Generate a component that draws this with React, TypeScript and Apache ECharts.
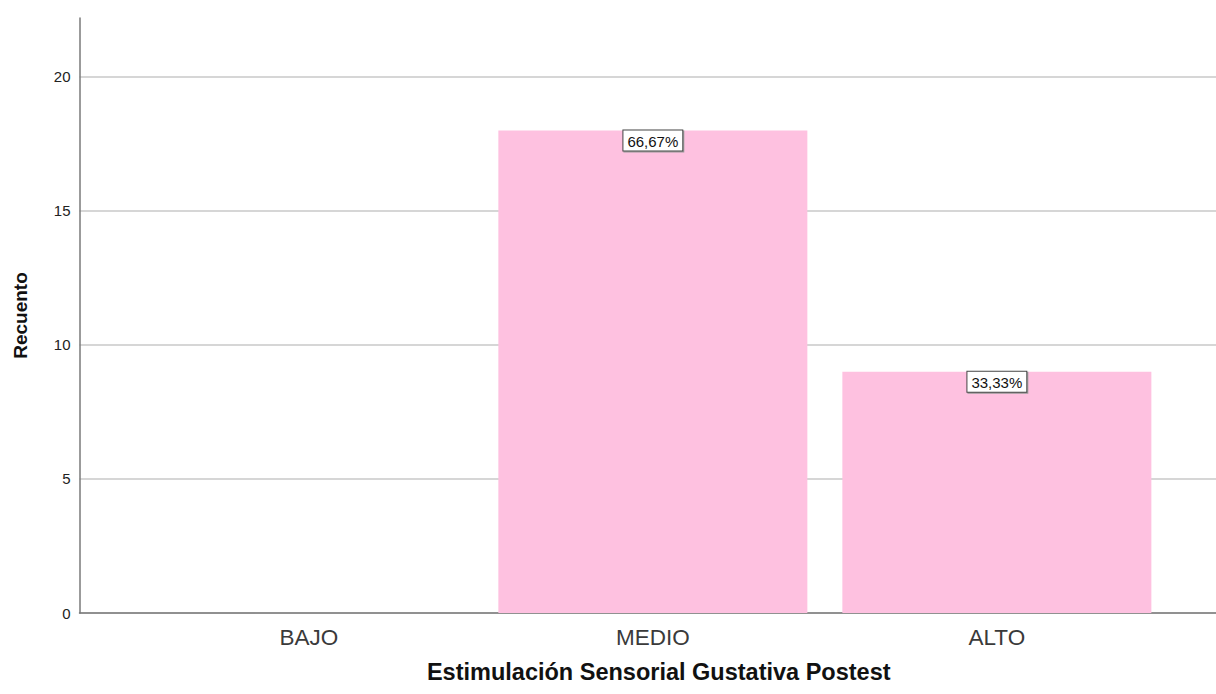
import React, { useEffect, useRef } from "react";
import * as echarts from "echarts";

const categories: string[] = ["BAJO", "MEDIO", "ALTO"];
const counts: number[] = [0, 18, 9];
const percentLabels: string[] = ["", "66,67%", "33,33%"];
const yTicks: number[] = [0, 5, 10, 15, 20];
const xTitle = "Estimulación Sensorial Gustativa Postest";
const yTitle = "Recuento";

export default function App() {
  const ref = useRef<HTMLDivElement>(null);
  useEffect(() => {
    if (!ref.current) return;
    const chart = echarts.init(ref.current, null, { renderer: "svg" });
    const font = "Liberation Sans, Arial, sans-serif";
    chart.setOption({
      animation: false,
      backgroundColor: "#ffffff",
      grid: { left: 79.5, right: 0, top: 18, bottom: 81, containLabel: false },
      xAxis: {
        type: "value",
        min: 1 / 3,
        max: 3.637,
        name: xTitle,
        nameLocation: "middle",
        nameGap: 47,
        nameTextStyle: { fontFamily: font, fontSize: 23.5, fontWeight: "bold", color: "#111", padding: [0, 0, 0, 22] },
        axisLine: { show: true, lineStyle: { color: "#7a7a7a", width: 1.5 } },
        axisTick: { show: false, customValues: [1, 2, 3] },
        splitLine: { show: false },
        axisLabel: {
          customValues: [1, 2, 3],
          formatter: (v: number) => categories[Math.round(v) - 1] ?? "",
          fontFamily: font,
          fontSize: 22.5,
          color: "#3a3a3a",
          margin: 13,
        },
      },
      yAxis: {
        type: "value",
        min: 0,
        max: 22.2,
        interval: 5,
        name: yTitle,
        nameLocation: "middle",
        nameGap: 50,
        nameTextStyle: { fontFamily: font, fontSize: 19, fontWeight: "bold", color: "#111" },
        axisLine: { show: true, lineStyle: { color: "#7a7a7a", width: 1.5 } },
        axisTick: { show: false },
        splitLine: { show: true, showMaxLine: false, lineStyle: { color: "#c8c8c8", width: 1.5 } },
        axisLabel: {
          fontFamily: font,
          fontSize: 15,
          color: "#222",
          margin: 9,
          padding: [6, 0, 0, 0],
          formatter: (v: number) => (yTicks.includes(v) ? String(v) : ""),
        },
      },
      series: [
        {
          type: "bar",
          barWidth: 309,
          data: counts.map((c, i) => ({ value: [i + 1, c], label: { show: c > 0 } })),
          itemStyle: { color: "#FEC1E0" },
          label: {
            show: true,
            position: "insideTop",
            distance: 0,
            formatter: (p: any) => percentLabels[p.dataIndex],
            fontFamily: font,
            fontSize: 15,
            color: "#111",
            backgroundColor: "#ffffff",
            borderColor: "#444",
            borderWidth: 1,
            padding: [3, 4, 2, 4],
            shadowColor: "#999",
            shadowOffsetX: 1,
            shadowOffsetY: 1,
            shadowBlur: 0,
          },
        },
      ],
    });
    return () => chart.dispose();
  }, []);
  return (
    <div
      ref={ref}
      style={{ position: "fixed", left: 0, top: 0, width: 1216, height: 694, background: "#fff" }}
    />
  );
}
